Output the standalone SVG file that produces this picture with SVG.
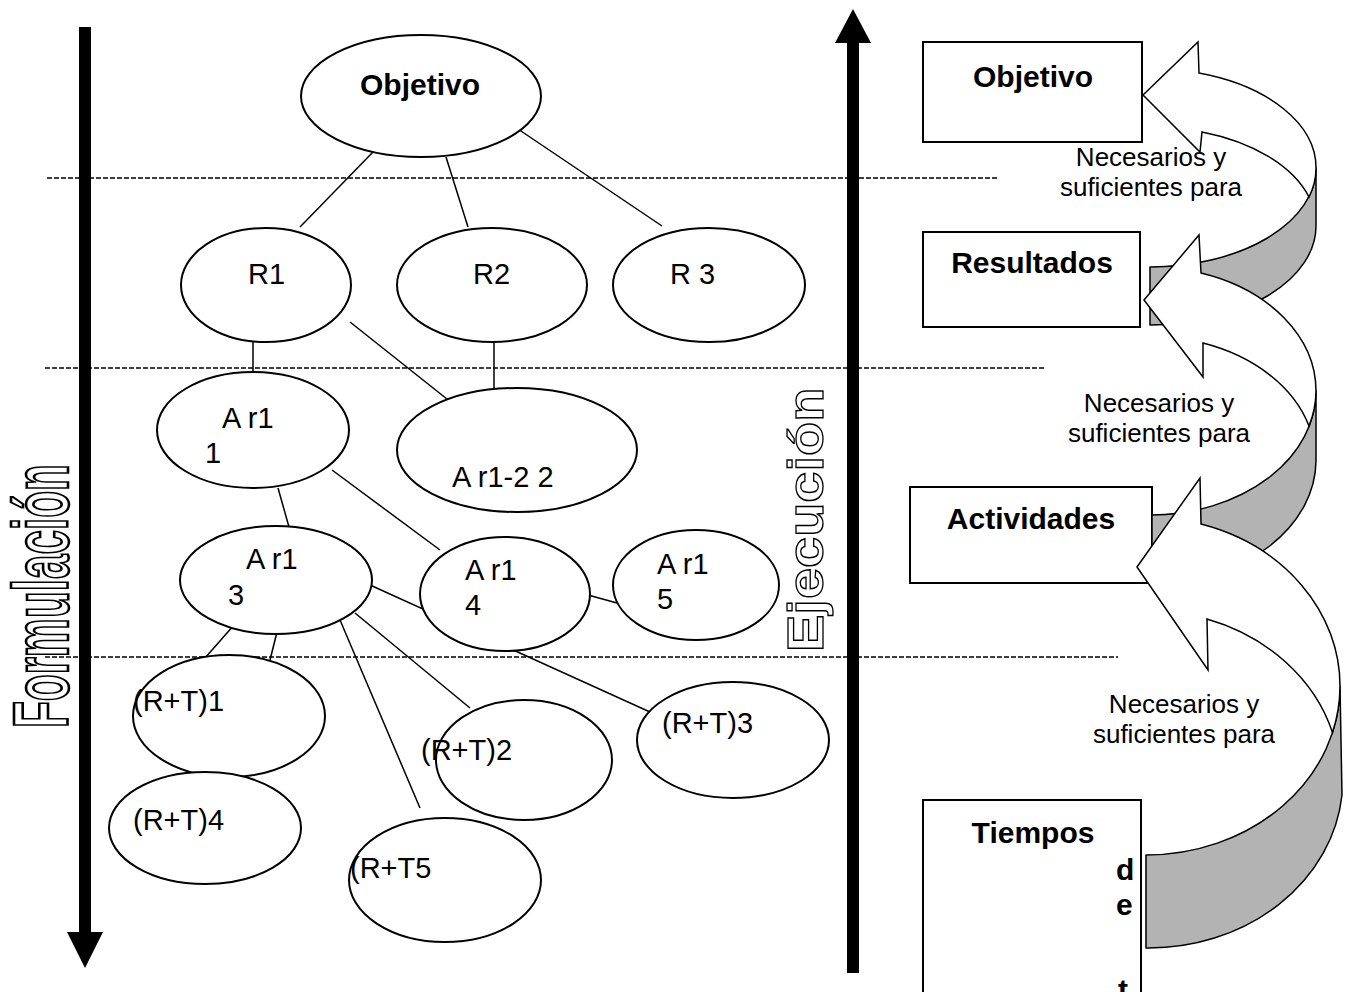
<svg xmlns="http://www.w3.org/2000/svg" width="1345" height="992" viewBox="0 0 1345 992">
  <style>
    text { font-family: "Liberation Sans", Arial, sans-serif; fill: #000; }
    .t { font-size: 29px; }
    .b { font-size: 30px; font-weight: bold; }
    .n { font-size: 26px; text-anchor: middle; }
    .c { text-anchor: middle; }
    .node ellipse { fill: #fff; stroke: #000; stroke-width: 2; }
    .box rect { fill: #fff; stroke: #000; stroke-width: 2; }
    .dash { stroke: #000; stroke-width: 1.5; stroke-dasharray: 5 2; fill: none; }
    .conn line { stroke: #000; stroke-width: 1.5; }
    .back { fill: #b3b3b3; stroke: #000; stroke-width: 1.5; stroke-linejoin: round; }
    .front { fill: #fff; stroke: #000; stroke-width: 1.5; stroke-linejoin: miter; }
    .outline { font-weight: bold; fill: #fff; stroke: #000; stroke-width: 1.5; }
  </style>

  <!-- vertical phase labels -->
  <text class="outline" font-size="44" transform="translate(68,728) rotate(-90) scale(1,1.75)">Formulación</text>
  <text class="outline" font-size="56" transform="translate(823,652) rotate(-90) scale(1,0.88)">Ejecución</text>

  <!-- level separators -->
  <g id="separators">
    <line class="dash" x1="47" y1="178" x2="997" y2="178"/>
    <line class="dash" x1="45" y1="368" x2="1045" y2="368"/>
    <line class="dash" x1="45" y1="657" x2="1118" y2="657"/>
  </g>

  <!-- direction arrows -->
  <g id="arrow-formulacion">
    <rect x="79" y="27" width="12" height="906" fill="#000"/>
    <polygon points="67,932 103,932 85,968" fill="#000"/>
  </g>
  <g id="arrow-ejecucion">
    <rect x="847" y="42" width="12" height="931" fill="#000"/>
    <polygon points="835,43 871,43 853,9" fill="#000"/>
  </g>

  <!-- connectors -->
  <g id="connectors" class="conn">
    <line x1="373" y1="152" x2="300" y2="227"/>
    <line x1="446" y1="157" x2="468" y2="227"/>
    <line x1="515" y1="127" x2="662" y2="226"/>
    <line x1="253" y1="342" x2="253" y2="372"/>
    <line x1="350" y1="322" x2="452" y2="403"/>
    <line x1="494" y1="342" x2="494" y2="390"/>
    <line x1="278" y1="488" x2="289" y2="527"/>
    <line x1="332" y1="470" x2="440" y2="550"/>
    <line x1="588" y1="595" x2="617" y2="603"/>
    <line x1="234" y1="625" x2="205" y2="658"/>
    <line x1="277" y1="632" x2="270" y2="660"/>
    <line x1="355" y1="613" x2="470" y2="708"/>
    <line x1="340" y1="620" x2="420" y2="808"/>
    <line x1="370" y1="585" x2="650" y2="712"/>
  </g>

  <!-- tree nodes -->
  <g id="n-objetivo" class="node"><ellipse cx="421" cy="96" rx="120" ry="61"/><text class="b c" x="420" y="95">Objetivo</text></g>
  <g id="n-r1" class="node"><ellipse cx="266" cy="285" rx="85" ry="57"/><text class="t" x="248" y="284">R1</text></g>
  <g id="n-r2" class="node"><ellipse cx="492" cy="285" rx="95" ry="57"/><text class="t" x="473" y="284">R2</text></g>
  <g id="n-r3" class="node"><ellipse cx="709" cy="285" rx="96" ry="57"/><text class="t" x="670" y="284">R 3</text></g>
  <g id="n-ar1-1" class="node"><ellipse cx="253" cy="430" rx="96" ry="58"/><text class="t" x="222" y="428">A r1</text><text class="t" x="205" y="463">1</text></g>
  <g id="n-ar12-2" class="node"><ellipse cx="517" cy="450" rx="120" ry="62"/><text class="t" x="452" y="487">A r1-2 2</text></g>
  <g id="n-ar1-3" class="node"><ellipse cx="276" cy="580" rx="96" ry="54"/><text class="t" x="246" y="569">A r1</text><text class="t" x="228" y="605">3</text></g>
  <g id="n-ar1-4" class="node"><ellipse cx="505" cy="594" rx="85" ry="57"/><text class="t" x="465" y="580">A r1</text><text class="t" x="465" y="615">4</text></g>
  <g id="n-ar1-5" class="node"><ellipse cx="696" cy="585" rx="83" ry="55"/><text class="t" x="657" y="574">A r1</text><text class="t" x="657" y="609">5</text></g>
  <g id="n-rt1" class="node"><ellipse cx="229" cy="716" rx="96" ry="61"/><text class="t" x="133" y="711">(R+T)1</text></g>
  <g id="n-rt2" class="node"><ellipse cx="524" cy="760" rx="88" ry="60"/><text class="t" x="421" y="760">(R+T)2</text></g>
  <g id="n-rt3" class="node"><ellipse cx="733" cy="740" rx="96" ry="58"/><text class="t" x="662" y="733">(R+T)3</text></g>
  <g id="n-rt4" class="node"><ellipse cx="205" cy="828" rx="96" ry="56"/><text class="t" x="133" y="830">(R+T)4</text></g>
  <g id="n-rt5" class="node"><ellipse cx="445" cy="880" rx="96" ry="62"/><text class="t" x="350" y="878">(R+T5</text></g>

  <!-- level boxes -->
  <g id="box-objetivo" class="box"><rect x="923" y="42" width="219" height="100"/><text class="b c" x="1033" y="87">Objetivo</text></g>
  <g id="box-resultados" class="box"><rect x="923" y="232" width="217" height="95"/><text class="b c" x="1032" y="273">Resultados</text></g>
  <g id="box-actividades" class="box"><rect x="910" y="487" width="242" height="96"/><text class="b c" x="1031" y="529">Actividades</text></g>
  <g id="box-tiempos" class="box"><rect x="923" y="800" width="218" height="210"/><text class="b c" x="1033" y="843">Tiempos</text>
    <text class="b" font-size="28" x="1116" y="880">d</text>
    <text class="b" font-size="28" x="1116" y="915">e</text>
    <text class="b" font-size="28" x="1118" y="1000">t</text>
  </g>

  <!-- curved return arrows -->
  <g id="curve-1">
    <path class="back" d="M1316,168 L1316,226 A166,99 0 0 1 1150,325 L1150,267 A166,99 0 0 0 1316,168 Z"/>
    <path class="front" d="M1143,95 L1198,42 L1199,73 A166,99 0 0 1 1316,168 A166,99 0 0 1 1309,197 A166,99 0 0 0 1202,132 L1200,152 Z"/>
  </g>
  <g id="curve-2">
    <path class="back" d="M1316,391 L1316,461 A166,124 0 0 1 1152,584 L1152,515 A166,124 0 0 0 1316,391 Z"/>
    <path class="front" d="M1144,300 L1199,235 L1201,273 A166,124 0 0 1 1316,391 A166,124 0 0 1 1309,426 A166,124 0 0 0 1203,343 L1203,377 Z"/>
  </g>
  <g id="curve-3">
    <path class="back" d="M1340,686 L1342,795 A194,169 0 0 1 1146,948 L1146,855 A194,169 0 0 0 1340,686 Z"/>
    <path class="front" d="M1137,567 L1200,478 L1201,524 A194,169 0 0 1 1340,686 A194,169 0 0 1 1332.5,732.5 A194,169 0 0 0 1207,619 L1208,670 Z"/>
  </g>

  <!-- arrow labels -->
  <g id="labels">
    <text class="n" x="1151" y="166">Necesarios y</text>
    <text class="n" x="1151" y="196">suficientes para</text>
    <text class="n" x="1159" y="412">Necesarios y</text>
    <text class="n" x="1159" y="442">suficientes para</text>
    <text class="n" x="1184" y="713">Necesarios y</text>
    <text class="n" x="1184" y="743">suficientes para</text>
  </g>
</svg>
